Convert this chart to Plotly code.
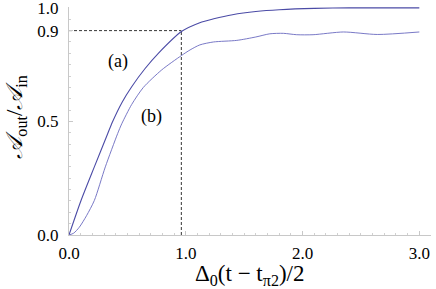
import plotly.graph_objects as go

# Curve (a)
xa = [0.0, 0.103, 0.217, 0.332, 0.374, 0.455, 0.537, 0.65, 0.765, 0.966, 1.12, 1.24, 1.4, 1.6, 1.8, 2.1, 2.4, 3.0]
ya = [0.0, 0.152, 0.30, 0.447, 0.50, 0.585, 0.653, 0.732, 0.80, 0.897, 0.935, 0.952, 0.97, 0.984, 0.992, 0.998, 1.0, 1.0]
# Curve (b)
xb = [0.0, 0.04, 0.088, 0.15, 0.217, 0.311, 0.417, 0.452, 0.537, 0.637, 0.794, 0.962, 1.037, 1.12, 1.237,
      1.437, 1.6, 1.72, 1.836, 1.95, 2.09, 2.35, 2.64, 3.0]
yb = [0.0, 0.008, 0.034, 0.085, 0.152, 0.30, 0.447, 0.49, 0.575, 0.65, 0.727, 0.79, 0.815, 0.837, 0.85,
      0.857, 0.872, 0.886, 0.888, 0.882, 0.882, 0.894, 0.883, 0.894]

x_mark = 0.962
y_mark = 0.9

x_ticks = [0.0, 1.0, 2.0, 3.0]
x_tick_labels = ["0.0", "1.0", "2.0", "3.0"]
y_ticks = [0.0, 0.5, 0.9, 1.0]
y_tick_labels = ["0.0", "0.5", "0.9", "1.0"]

font = "Liberation Serif, Times New Roman, serif"

fig = go.Figure()
fig.add_trace(go.Scatter(x=[0, x_mark], y=[y_mark, y_mark], mode="lines",
                         line=dict(color="black", width=0.8, dash="3px,2px"), hoverinfo="skip"))
fig.add_trace(go.Scatter(x=[x_mark, x_mark], y=[0, y_mark], mode="lines",
                         line=dict(color="black", width=0.8, dash="3px,2px"), hoverinfo="skip"))
fig.add_trace(go.Scatter(x=xa, y=ya, mode="lines", line=dict(color="#4b4ba6", width=1.1, shape="spline", smoothing=0.7)))
fig.add_trace(go.Scatter(x=xb, y=yb, mode="lines", line=dict(color="#6a6ac0", width=0.9, shape="spline", smoothing=0.7)))

fig.add_annotation(x=0.42, y=0.762, text="(a)", showarrow=False, font=dict(family=font, size=18, color="black"))
fig.add_annotation(x=0.709, y=0.52, text="(b)", showarrow=False, font=dict(family=font, size=18, color="black"))

fig.add_annotation(xref="paper", yref="paper", x=0.5, y=-0.175, yanchor="middle", showarrow=False,
                   text="Δ<sub>0</sub>(t − t<sub>π2</sub>)/2", font=dict(family=font, size=23, color="black"))
fig.add_annotation(xref="paper", yref="paper", x=-0.19, y=0.52, textangle=-90, showarrow=False,
                   text="<i>𝒜</i><sub>out</sub>/<i>𝒜</i><sub>in</sub>", font=dict(family=font, size=23, color="black"))

fig.update_layout(
    width=436, height=289, showlegend=False,
    margin=dict(l=69, r=5, t=7, b=54, autoexpand=False),
    plot_bgcolor="white", paper_bgcolor="white",
    font=dict(family=font, size=17, color="black"),
)
fig.update_xaxes(range=[0, 3.10], showgrid=False, zeroline=False, showline=True, linecolor="#c8c8c8",
                 linewidth=1, ticks="inside", ticklen=4, tickcolor="#c8c8c8", automargin=False,
                 tickvals=x_ticks, ticktext=x_tick_labels, tickfont=dict(family=font, size=17),
                 ticklabelstandoff=3, ticklabeloverflow="allow",
                 minor=dict(dtick=0.1, ticks="inside", ticklen=2, tickcolor="#d0d0d0"))
fig.update_yaxes(range=[0, 1.004], showgrid=False, zeroline=False, showline=True, linecolor="#c8c8c8",
                 linewidth=1, ticks="inside", ticklen=4, tickcolor="#c8c8c8", automargin=False,
                 tickvals=y_ticks, ticktext=y_tick_labels, tickfont=dict(family=font, size=17),
                 ticklabelstandoff=6, ticklabeloverflow="allow",
                 minor=dict(dtick=0.05, ticks="inside", ticklen=2, tickcolor="#d0d0d0"))

fig.write_html("out.html", config={"displayModeBar": False},
               post_script="document.body.style.margin='0';document.body.style.padding='0';")
